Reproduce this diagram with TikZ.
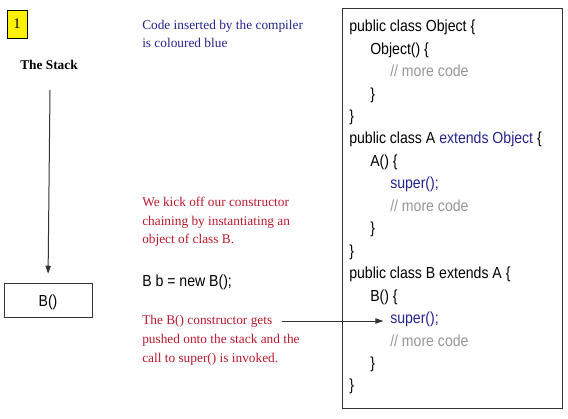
\documentclass[tikz,border=0pt]{standalone}
\usepackage{fontspec}
\setmainfont{Liberation Serif}
\newfontfamily\codefont[FakeStretch=0.88]{Liberation Sans}
\usetikzlibrary{arrows.meta}
\definecolor{codeblue}{RGB}{35,35,140}
\definecolor{notered}{RGB}{185,25,45}
\definecolor{remarkgray}{RGB}{150,150,150}

\begin{document}
\begin{tikzpicture}[x=0.75pt, y=-0.75pt, every node/.style={inner sep=0pt},
    codeline/.style={font=\codefont\fontsize{12}{14}\selectfont, anchor=base west},
    remark/.style={codeline, text=remarkgray},
    prose/.style={font=\fontsize{10}{13.8}\selectfont, align=left, anchor=north west},
    pointer/.style={draw=black!80, line width=0.75pt, -{Triangle[length=6pt,width=4pt]}}]
    \useasboundingbox (0,0) rectangle (568,418);
    % Stack side
    \node (slide) [draw, fill=yellow, minimum width=15pt, minimum height=21pt, font=\fontsize{11}{13}\selectfont] at (17,24) {1};
    \node (stacktitle) [anchor=base, font=\bfseries\fontsize{10}{12}\selectfont] at (49,69.3) {The Stack};
    \coordinate (stacktop) at (50,90);
    \node (bframe) [draw=black!80, minimum width=66pt, minimum height=25.5pt] at (48,300) {};
    \node (bcall) [codeline, anchor=base] at (48,306) {B()};
    % Notes
    \node (bluenote) [prose, text=codeblue] at (142,19.5) {Code inserted by the compiler\\is coloured blue};
    \node (kickoff) [prose, text=notered] at (142,197.3) {We kick off our constructor\\chaining by instantiating an\\object of class B.};
    \node (newb) [codeline] at (142,286) {B b = new B();};
    \node (pushed) [prose, text=notered, font=\fontsize{10}{14.1}\selectfont] at (142,315) {The B() constructor gets\\pushed onto the stack and the\\call to super() is invoked.};
    \coordinate (callstart) at (282,321);
    % Code
    \node (codebox) [draw=black!80, line width=0.75pt, minimum width=165pt, minimum height=300pt] at (452,208) {};
    \node (objclass) [codeline] at (349,31.7) {public class Object \{};
    \node (objctor) [codeline] at (370,54.15) {Object() \{};
    \node (objmore) [remark] at (390,76.6) {// more code};
    \node (objinner) [codeline] at (370,99.05) {\}};
    \node (objclose) [codeline] at (349,121.5) {\}};
    \node (aclass) [codeline] at (349,143.95) {public class A {\color{codeblue}extends Object} \{};
    \node (actor) [codeline] at (370,166.4) {A() \{};
    \node (asuper) [codeline, text=codeblue] at (390,188.85) {super();};
    \node (amore) [remark] at (390,211.3) {// more code};
    \node (ainner) [codeline] at (370,233.75) {\}};
    \node (aclose) [codeline] at (349,256.2) {\}};
    \node (bclass) [codeline] at (349,278.65) {public class B extends A \{};
    \node (bctor) [codeline] at (370,301.1) {B() \{};
    \node (bsuper) [codeline, text=codeblue] at (390,323.55) {super();};
    \node (bmore) [remark] at (390,346) {// more code};
    \node (binner) [codeline] at (370,368.45) {\}};
    \node (bclose) [codeline] at (349,390.9) {\}};
    % Arrows
    \draw[pointer, shorten >=6.75pt] (stacktop) -- (bframe.north);
    \draw[pointer, shorten >=5pt] (callstart) -- (callstart -| bsuper.west);
\end{tikzpicture}
\end{document}
